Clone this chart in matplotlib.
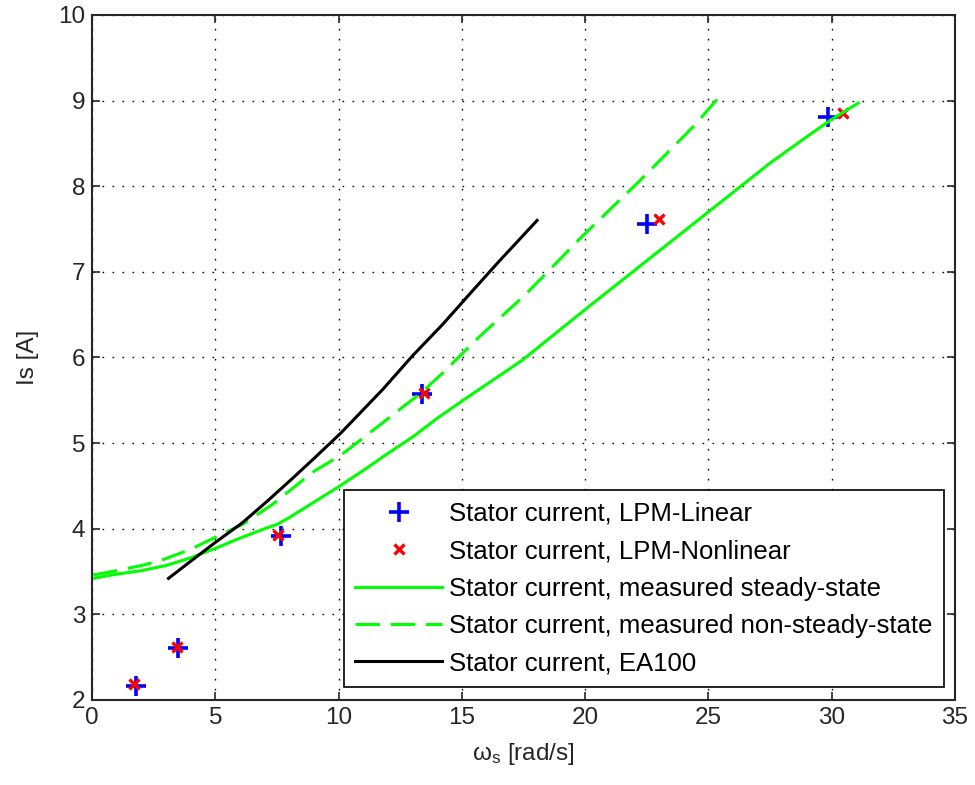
import numpy as np
import matplotlib
matplotlib.use("Agg")
import matplotlib.pyplot as plt

plt.rcParams['font.family'] = ['Liberation Sans', 'DejaVu Sans']
plt.rcParams['mathtext.default'] = 'regular'

# LPM model points
ws_lin = [1.8, 3.5, 7.65, 13.4, 22.5, 29.85]
is_lin = [2.16, 2.61, 3.91, 5.57, 7.56, 8.81]
ws_nonlin = [1.72, 3.45, 7.55, 13.45, 23.0, 30.45]
is_nonlin = [2.19, 2.62, 3.93, 5.59, 7.62, 8.86]

# measured steady-state
ws_ss = [0.05, 1, 2, 3, 4, 5, 6, 7, 7.5, 8, 9, 10, 11, 12, 13, 14, 15, 17, 17.5,
         20, 22.5, 25, 27.5, 29, 30, 31.07]
is_ss = [3.42, 3.47, 3.51, 3.57, 3.66, 3.77, 3.89, 4.0, 4.05, 4.13, 4.31, 4.49, 4.68,
         4.88, 5.07, 5.29, 5.49, 5.88, 5.98, 6.56, 7.13, 7.7, 8.27, 8.58, 8.78, 8.97]

# measured non-steady-state
ws_nss = [0.05, 1, 2, 2.8, 4, 5, 6.1, 7.3, 9, 10.1, 11.8, 13.4, 14.3, 15.7, 17.6,
          19.9, 22.2, 24.4, 25.4]
is_nss = [3.46, 3.51, 3.57, 3.63, 3.76, 3.9, 4.05, 4.28, 4.67, 4.86, 5.24, 5.6, 5.84,
          6.24, 6.74, 7.42, 8.06, 8.7, 9.03]

# EA100
ws_ea = [3.1, 4, 5, 6.1, 7.1, 8.1, 9.0, 10.1, 11.8, 13.0, 14.2, 15.5, 16.5, 18.05]
is_ea = [3.42, 3.62, 3.84, 4.07, 4.32, 4.58, 4.82, 5.12, 5.63, 6.02, 6.38, 6.8, 7.12, 7.6]

fs = 17.5

fig = plt.figure(figsize=(9.75, 7.85), dpi=100)
ax = fig.add_axes([0.0944, 0.1083, 0.8851, 0.8727])

ax.plot(ws_lin, is_lin, '+', color='blue', markersize=14, markeredgewidth=2.6,
        label='Stator current, LPM-Linear')
ax.plot(ws_nonlin, is_nonlin, 'x', color='red', markersize=7, markeredgewidth=2.4,
        label='Stator current, LPM-Nonlinear')
ax.plot(ws_ss, is_ss, '-', color=(0, 1, 0), lw=2.2,
        label='Stator current, measured steady-state')
ax.plot(ws_nss, is_nss, color=(0, 1, 0), lw=2.2, linestyle=(0, (8, 3.5)),
        label='Stator current, measured non-steady-state')
ax.plot(ws_ea, is_ea, '-', color='black', lw=2.2,
        label='Stator current, EA100')

ax.set_xlim(0, 35)
ax.set_ylim(2, 10)
ax.set_xticks(np.arange(0, 36, 5))
ax.set_yticks(np.arange(2, 11, 1))
ax.grid(True, color='black', linestyle=(0, (1.2, 6)), linewidth=1.0)
ax.tick_params(direction='in', length=6, width=1.2, top=True, right=True,
               labelsize=fs, colors='#262626', pad=5)
for sp in ax.spines.values():
    sp.set_linewidth(1.5)
    sp.set_color('#262626')

ax.set_xlabel('ω$_s$ [rad/s]', fontsize=fs, color='#262626', labelpad=9)
ax.set_ylabel('Is [A]', fontsize=fs, color='#262626', labelpad=14)

leg = ax.legend(loc='lower right', bbox_to_anchor=(0.987, 0.019), borderaxespad=0,
                fontsize=18.5, handlelength=3.4, handletextpad=0.25, labelspacing=0.52,
                fancybox=False, framealpha=1, edgecolor='black', borderpad=0.45)
leg.get_frame().set_linewidth(1.2)

fig.savefig('out.png', dpi=100)
